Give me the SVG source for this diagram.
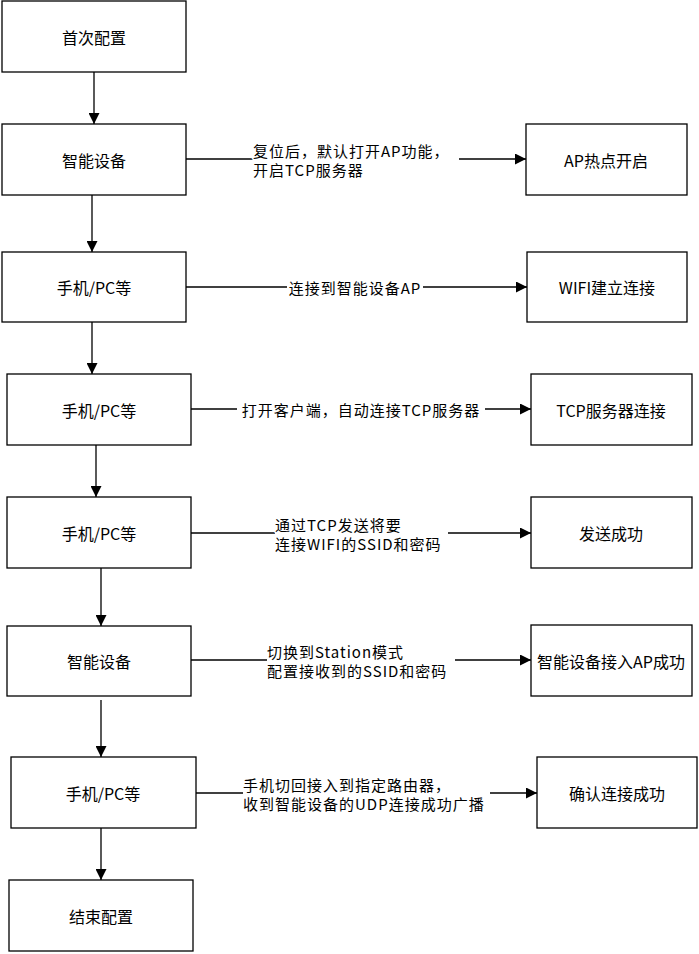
<svg xmlns="http://www.w3.org/2000/svg" width="699" height="954" viewBox="0 0 699 954">
<style>
.box{fill:#fff;stroke:#000;stroke-width:1.3}
.t{font-family:"Noto Sans CJK SC","Liberation Sans",sans-serif;font-size:16px;fill:#000;text-anchor:middle;dominant-baseline:central}
.l{font-family:"Noto Sans CJK SC","Liberation Sans",sans-serif;font-size:15px;fill:#000;dominant-baseline:central;letter-spacing:1px;stroke:#fff;stroke-width:3px;paint-order:stroke}
.c{fill:none;stroke:#000;stroke-width:1.3}
.m{text-anchor:middle}
</style>
<defs>
<marker id="arr" markerUnits="userSpaceOnUse" markerWidth="11" markerHeight="11" refX="10" refY="5" orient="auto" viewBox="0 0 10 10">
<path d="M0,0 L10,5 L0,10 z" fill="#000"/>
</marker>
</defs>
<g id="n1"><rect class="box" x="2" y="1" width="184" height="71"/><text class="t" x="94" y="37">首次配置</text></g>
<g id="n2"><rect class="box" x="2" y="124" width="184" height="71"/><text class="t" x="94" y="160">智能设备</text></g>
<g id="n3"><rect class="box" x="2" y="252" width="184" height="70"/><text class="t" x="94" y="287">手机/PC等</text></g>
<g id="n4"><rect class="box" x="7" y="374" width="184" height="71"/><text class="t" x="99" y="410">手机/PC等</text></g>
<g id="n5"><rect class="box" x="7" y="497" width="184" height="71"/><text class="t" x="99" y="533">手机/PC等</text></g>
<g id="n6"><rect class="box" x="7" y="626" width="184" height="70"/><text class="t" x="99" y="661">智能设备</text></g>
<g id="n7"><rect class="box" x="11" y="757" width="185" height="71"/><text class="t" x="103" y="793">手机/PC等</text></g>
<g id="n8"><rect class="box" x="9" y="880" width="184" height="71"/><text class="t" x="101" y="916">结束配置</text></g>
<g id="r1"><rect class="box" x="526" y="124" width="161" height="71"/><text class="t" x="606" y="160">AP热点开启</text></g>
<g id="r2"><rect class="box" x="527" y="252" width="160" height="70"/><text class="t" x="607" y="287">WIFI建立连接</text></g>
<g id="r3"><rect class="box" x="531" y="374" width="161" height="71"/><text class="t" x="611" y="410">TCP服务器连接</text></g>
<g id="r4"><rect class="box" x="531" y="497" width="161" height="71"/><text class="t" x="611" y="533">发送成功</text></g>
<g id="r5"><rect class="box" x="531" y="625" width="161" height="71"/><text class="t" x="611" y="661">智能设备接入AP成功</text></g>
<g id="r6"><rect class="box" x="537" y="757" width="160" height="71"/><text class="t" x="617" y="793">确认连接成功</text></g>
<g id="connectors">
<line class="c" x1="94" y1="72" x2="94" y2="124" marker-end="url(#arr)"/>
<line class="c" x1="92" y1="195" x2="92" y2="252" marker-end="url(#arr)"/>
<line class="c" x1="92" y1="322" x2="92" y2="374" marker-end="url(#arr)"/>
<line class="c" x1="96" y1="445" x2="96" y2="497" marker-end="url(#arr)"/>
<line class="c" x1="101" y1="568" x2="101" y2="626" marker-end="url(#arr)"/>
<line class="c" x1="101" y1="700" x2="101" y2="757" marker-end="url(#arr)"/>
<line class="c" x1="101" y1="828" x2="101" y2="880" marker-end="url(#arr)"/>

<line class="c" x1="186" y1="159" x2="253" y2="159"/>
<line class="c" x1="459" y1="159" x2="526" y2="159" marker-end="url(#arr)"/>
<text class="l" x="253" y="150">复位后，默认打开AP功能，</text>
<text class="l" x="253" y="169">开启TCP服务器</text>

<line class="c" x1="186" y1="287" x2="287" y2="287"/>
<line class="c" x1="423" y1="287" x2="527" y2="287" marker-end="url(#arr)"/>
<text class="l m" x="355" y="287">连接到智能设备AP</text>

<line class="c" x1="191" y1="409" x2="237" y2="409"/>
<line class="c" x1="485" y1="409" x2="531" y2="409" marker-end="url(#arr)"/>
<text class="l m" x="361" y="409">打开客户端，自动连接TCP服务器</text>

<line class="c" x1="191" y1="533" x2="275" y2="533"/>
<line class="c" x1="448" y1="533" x2="531" y2="533" marker-end="url(#arr)"/>
<text class="l" x="275" y="524">通过TCP发送将要</text>
<text class="l" x="275" y="543">连接WIFI的SSID和密码</text>

<line class="c" x1="191" y1="660" x2="267" y2="660"/>
<line class="c" x1="455" y1="660" x2="531" y2="660" marker-end="url(#arr)"/>
<text class="l" x="267" y="651">切换到Station模式</text>
<text class="l" x="267" y="670">配置接收到的SSID和密码</text>

<line class="c" x1="196" y1="793" x2="243" y2="793"/>
<line class="c" x1="490" y1="793" x2="537" y2="793" marker-end="url(#arr)"/>
<text class="l" x="243" y="784">手机切回接入到指定路由器，</text>
<text class="l" x="243" y="803">收到智能设备的UDP连接成功广播</text>
</g>
</svg>
